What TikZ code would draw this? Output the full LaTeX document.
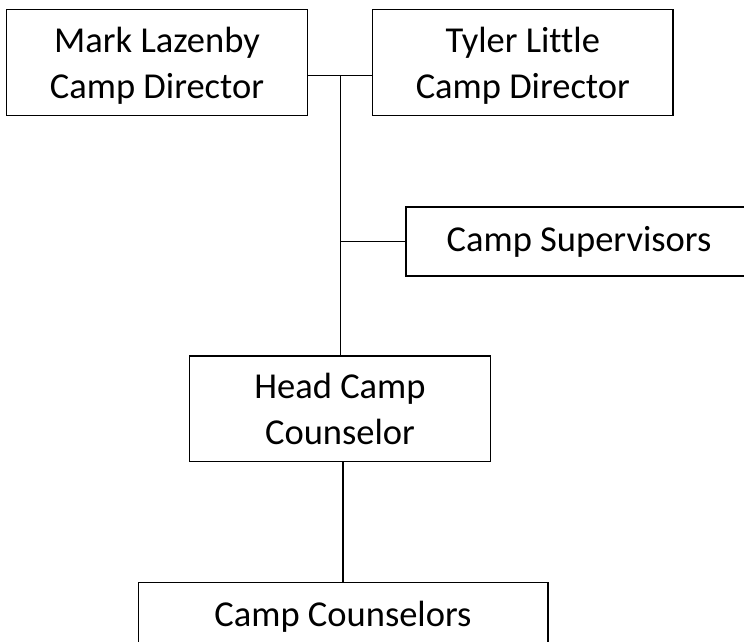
\documentclass[tikz,border=0pt]{standalone}
\usepackage{fontspec}
\setmainfont{Carlito}[Ligatures=NoCommon]
\usepackage{tikz}
\tikzset{box/.style={draw, line width=1.3pt, align=center, inner sep=0pt,
    font=\fontsize{36.5}{45.7}\selectfont}}
\tikzset{twoline/.style={box, text depth=-4pt}}
\tikzset{link/.style={line width=1.3pt}}

\begin{document}
\begin{tikzpicture}[x=1pt,y=-1pt]
	\useasboundingbox (0,0) rectangle (744,641);
	\clip (0,0) rectangle (744,641);
	\node[twoline, minimum width=301pt, minimum height=106pt] (mark) at (157,62.8) {Mark Lazenby\\Camp Director};
	\node[twoline, minimum width=300.5pt, minimum height=106pt] (tyler) at (522.8,62.8) {Tyler Little\\Camp Director};
	\node[box, minimum width=346pt, minimum height=69pt] (sup) at (579,241.5) {Camp Supervisors};
	\node[twoline, minimum width=301.4pt, minimum height=105.7pt] (head) at (340,408.8) {Head Camp\\Counselor};
	\node[box, minimum width=409.7pt, minimum height=69pt] (couns) at (343,617) {Camp Counselors};
	\coordinate (j) at (340.8,75.3);
	\draw[link] (mark.east |- j) -- (tyler.west |- j);
	\draw[link] (j) -- (j |- head.north);
	\draw[link] (j |- sup.west) -- (sup.west);
	\draw[link] (couns.north |- head.south) -- (couns.north);
\end{tikzpicture}
\end{document}
